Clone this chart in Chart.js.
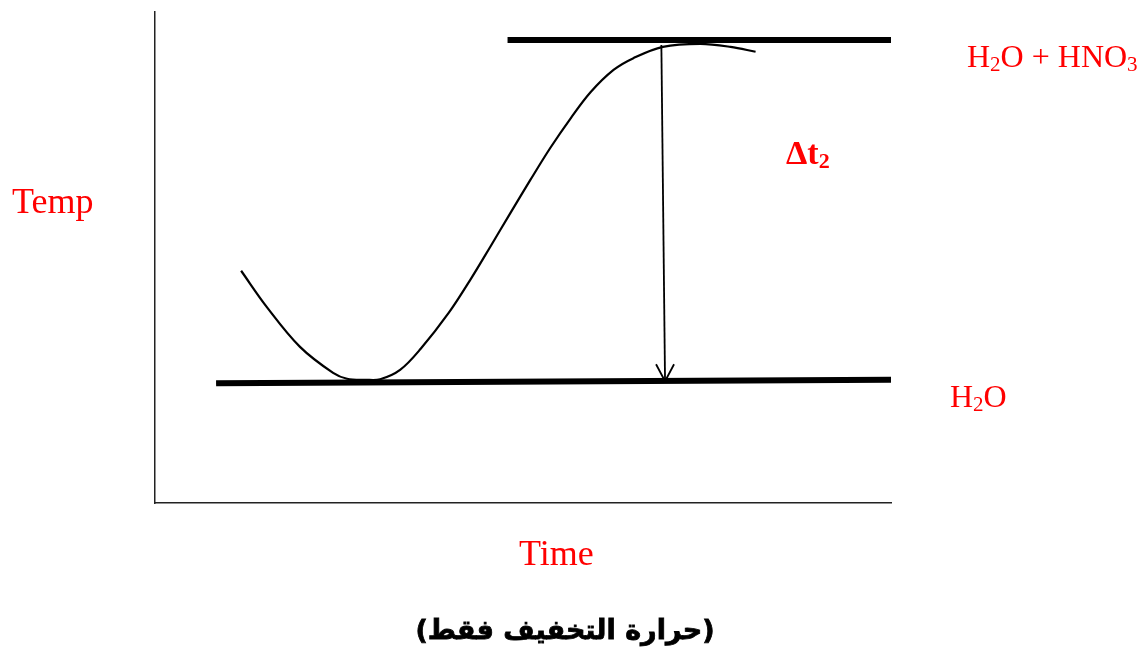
<!DOCTYPE html>
<html>
<head>
<meta charset="utf-8">
<script src="https://cdn.jsdelivr.net/npm/chart.js@4.4.1/dist/chart.umd.min.js"></script>
<style>
  html, body { margin: 0; padding: 0; background: #fff; }
  #wrap { width: 1141px; height: 658px; }
</style>
</head>
<body>
<div id="wrap"><canvas id="tempChart" width="1141" height="658"></canvas></div>
<script>
// temperature curve (time 0-100, temp 0-100)
var curveTime = [11.7, 15.2, 19.7, 24.2, 26.1, 28.6, 30.6, 33.3, 36.1, 39.9, 42.9, 45.6, 48.3, 51.0, 53.7, 56.5, 59.2, 62.3, 65.0, 69.0, 74.1, 78.2, 81.6];
var curveTemp = [47.3, 39.9, 31.8, 26.5, 25.3, 25.1, 25.2, 27.1, 31.4, 38.7, 45.6, 52.3, 59.1, 65.8, 72.3, 78.4, 83.7, 88.2, 90.6, 92.9, 93.5, 92.9, 91.9];

// level of water alone and of water + acid
var waterTime = [8.3, 100];
var waterTemp = [24.4, 25.1];
var acidTime = [47.9, 100];
var acidTemp = [94.3, 94.3];

// delta t arrow
var arrowTime = [68.8, 69.3];
var arrowTemp = [93.3, 24.8];

function toPoints(xs, ys) {
    return xs.map(function (x, i) { return { x: x, y: ys[i] }; });
}

// write a formula like H2O with lowered small digits
function drawFormula(ctx, parts, x, y, size, weight) {
    var subSize = Math.round(size * 0.65);
    parts.forEach(function (p) {
        var sub = p[1];
        ctx.font = weight + ' ' + (sub ? subSize : size) + 'px "Liberation Serif", "Times New Roman", serif';
        ctx.fillText(p[0], x, sub ? y + size * 0.12 : y);
        x += ctx.measureText(p[0]).width;
    });
}

var labelsPlugin = {
    id: 'labels',
    afterDatasetsDraw: function (chart) {
        var ctx = chart.ctx;
        // arrow head at the end of the delta t arrow
        var meta = chart.getDatasetMeta(3);
        var tip = meta.data[meta.data.length - 1];
        ctx.save();
        ctx.strokeStyle = '#000';
        ctx.lineWidth = 1.8;
        ctx.beginPath();
        ctx.moveTo(tip.x - 9, tip.y - 17);
        ctx.lineTo(tip.x, tip.y);
        ctx.lineTo(tip.x + 9, tip.y - 17);
        ctx.stroke();

        ctx.fillStyle = '#ff0000';
        ctx.textAlign = 'left';
        ctx.textBaseline = 'alphabetic';
        drawFormula(ctx, [['H', 0], ['2', 1], ['O + HNO', 0], ['3', 1]], 967, 67, 32, 'normal');
        drawFormula(ctx, [['H', 0], ['2', 1], ['O', 0]], 950, 407, 32, 'normal');
        drawFormula(ctx, [['\u0394t', 0], ['2', 1]], 786, 164, 34, 'bold');
        drawFormula(ctx, [['Temp', 0]], 12, 213, 36, 'normal');
        drawFormula(ctx, [['Time', 0]], 519, 565, 36, 'normal');

        ctx.fillStyle = '#000';
        ctx.strokeStyle = '#000';
        ctx.lineWidth = 0.8;
        ctx.font = 'bold 27px "DejaVu Sans", sans-serif';
        ctx.direction = 'rtl';
        ctx.textAlign = 'center';
        ctx.fillText('(حرارة التخفيف فقط)', 565, 639);
        ctx.strokeText('(حرارة التخفيف فقط)', 565, 639);
        ctx.restore();
    }
};

var ctx = document.getElementById('tempChart').getContext('2d');
var tempChart = new Chart(ctx, {
    type: 'line',
    data: {
        datasets: [{
            data: toPoints(curveTime, curveTemp),
            borderColor: '#000',
            borderWidth: 2.2,
            tension: 0.35,
            pointRadius: 0
        }, {
            data: toPoints(waterTime, waterTemp),
            borderColor: '#000',
            borderWidth: 6,
            pointRadius: 0
        }, {
            data: toPoints(acidTime, acidTemp),
            borderColor: '#000',
            borderWidth: 6,
            pointRadius: 0
        }, {
            data: toPoints(arrowTime, arrowTemp),
            borderColor: '#000',
            borderWidth: 1.8,
            pointRadius: 0
        }]
    },
    options: {
        responsive: false,
        animation: false,
        devicePixelRatio: 1,
        layout: {
            padding: { left: 155, top: 12, right: 250, bottom: 155 }
        },
        datasets: {
            line: { clip: false }
        },
        scales: {
            x: {
                type: 'linear',
                min: 0,
                max: 100,
                grid: { display: false, drawTicks: false },
                ticks: { display: false },
                border: { display: true, color: '#222', width: 1.5 }
            },
            y: {
                type: 'linear',
                min: 0,
                max: 100,
                grid: { display: false, drawTicks: false },
                ticks: { display: false },
                border: { display: true, color: '#222', width: 1.5 }
            }
        },
        plugins: {
            legend: { display: false },
            tooltip: { enabled: false }
        }
    },
    plugins: [labelsPlugin]
});
</script>
</body>
</html>
